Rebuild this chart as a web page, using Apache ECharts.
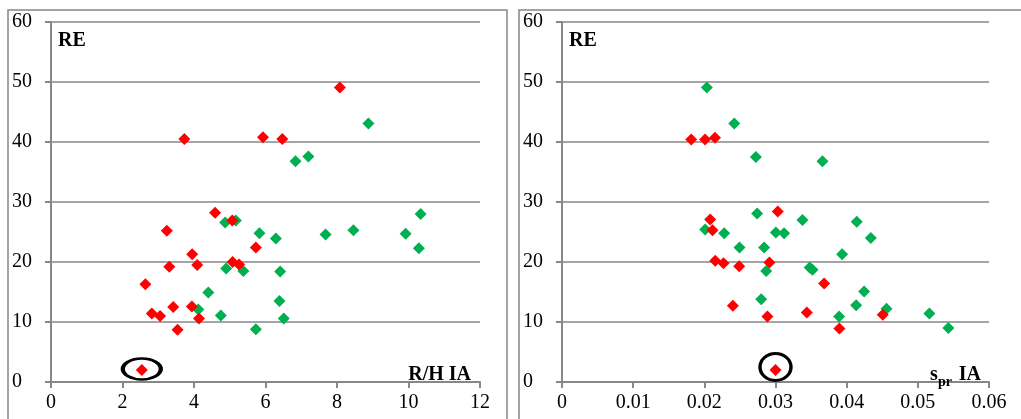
<!DOCTYPE html>
<html>
<head>
<meta charset="utf-8">
<script src="https://cdn.jsdelivr.net/npm/echarts@6/dist/echarts.min.js"></script>
<style>
  html, body { margin: 0; padding: 0; background: #fff; }
  #chart { width: 1021px; height: 419px; }
</style>
</head>
<body>
<div id="chart"></div>
<script>
// RE against R/H IA (left panel)
const rhGreen = [
  [6.84, 36.8], [7.20, 37.6], [8.88, 43.1], [4.87, 26.6], [5.17, 26.9], [10.34, 28.0],
  [5.83, 24.8], [6.29, 23.9], [7.68, 24.6], [8.46, 25.3], [9.92, 24.7], [10.29, 22.3],
  [4.90, 18.9], [5.38, 18.5], [6.41, 18.4], [4.40, 14.9], [4.12, 12.1], [4.75, 11.1],
  [5.73, 8.8], [6.39, 13.5], [6.51, 10.6]
];
const rhRed = [
  [3.73, 40.5], [5.93, 40.8], [6.47, 40.5], [8.08, 49.1], [4.59, 28.2], [5.07, 26.9],
  [3.24, 25.2], [5.73, 22.4], [3.95, 21.3], [4.09, 19.5], [3.31, 19.2], [5.08, 20.0],
  [5.26, 19.6], [2.64, 16.3], [2.82, 11.4], [3.05, 11.0], [3.42, 12.5], [3.94, 12.6],
  [4.14, 10.6], [3.54, 8.7], [2.54, 2.0]
];
// point singled out with an ellipse
const rhHighlight = [[2.54, 2.0]];

// RE against s_pr IA (right panel)
const sprGreen = [
  [0.02036, 49.1], [0.0242, 43.1], [0.02724, 37.5], [0.0366, 36.8], [0.02742, 28.1],
  [0.02012, 25.4], [0.02279, 24.8], [0.03379, 27.0], [0.04142, 26.7], [0.04339, 24.0],
  [0.03005, 24.9], [0.0312, 24.8], [0.02494, 22.4], [0.0284, 22.4], [0.03936, 21.3],
  [0.02869, 18.5], [0.0348, 19.1], [0.0352, 18.7], [0.04245, 15.1], [0.02799, 13.8],
  [0.04133, 12.8], [0.0456, 12.2], [0.03894, 10.9], [0.05162, 11.4], [0.05429, 9.0]
];
const sprRed = [
  [0.01816, 40.4], [0.0201, 40.4], [0.0215, 40.7], [0.03032, 28.4], [0.02082, 27.1],
  [0.02115, 25.3], [0.02153, 20.2], [0.02269, 19.8], [0.0249, 19.3], [0.02915, 19.9],
  [0.03683, 16.4], [0.02401, 12.7], [0.0344, 11.6], [0.04507, 11.2], [0.02887, 10.9],
  [0.03898, 8.9], [0.0300, 2.0]
];
const sprHighlight = [[0.0300, 2.0]];

const yTicks = { min: 0, max: 60, interval: 10 };
const rhTicks = { min: 0, max: 12, interval: 2 };
const sprTicks = { min: 0, max: 0.06, interval: 0.01 };

const GREEN = '#00b050';
const RED = '#ff0000';
const AXIS_GREY = '#878787';
const FONT = '"Liberation Serif", "DejaVu Serif", serif';

function xAxisCfg(gridIndex, t) {
  return {
    type: 'value', gridIndex, min: t.min, max: t.max, interval: t.interval,
    axisLine: { show: true, onZero: false, lineStyle: { color: AXIS_GREY, width: 2 } },
    axisTick: { show: true, inside: false, length: 6, lineStyle: { color: AXIS_GREY, width: 2 } },
    axisLabel: { color: '#000', fontFamily: FONT, fontSize: 20, margin: 11 },
    splitLine: { show: false }
  };
}
function yAxisCfg(gridIndex) {
  return {
    type: 'value', gridIndex, min: yTicks.min, max: yTicks.max, interval: yTicks.interval,
    axisLine: { show: true, lineStyle: { color: AXIS_GREY, width: 2 } },
    axisTick: { show: true, inside: false, length: 6, lineStyle: { color: AXIS_GREY, width: 2 } },
    axisLabel: { color: '#000', fontFamily: FONT, fontSize: 20, align: 'left', margin: 39 },
    splitLine: { show: true, lineStyle: { color: AXIS_GREY, width: 1.6 } }
  };
}
function dots(idx, data, color) {
  return {
    type: 'scatter', xAxisIndex: idx, yAxisIndex: idx, data,
    symbol: 'diamond', symbolSize: 12,
    itemStyle: { color, opacity: 1 }, silent: true, animation: false
  };
}
function ring(idx, data, size, offset) {
  return {
    type: 'scatter', xAxisIndex: idx, yAxisIndex: idx, data,
    symbol: 'circle', symbolSize: size, symbolOffset: offset, z: 5,
    itemStyle: { color: 'none', borderColor: '#000', borderWidth: 3.2, opacity: 1 },
    silent: true, animation: false
  };
}
const boldText = (x, y, text, size, align) => ({
  type: 'text', x, y, z: 10,
  style: { text, fontFamily: FONT, fontWeight: 'bold', fontSize: size, fill: '#000',
           align: align || 'left', verticalAlign: 'bottom' }
});

const chart = echarts.init(document.getElementById('chart'), null, { renderer: 'canvas' });
chart.setOption({
  backgroundColor: '#fff',
  animation: false,
  grid: [
    { left: 51, top: 22, width: 429, height: 360 },
    { left: 562, top: 22, width: 427, height: 360 }
  ],
  xAxis: [xAxisCfg(0, rhTicks), xAxisCfg(1, sprTicks)],
  yAxis: [yAxisCfg(0), yAxisCfg(1)],
  series: [
    dots(0, rhGreen, GREEN),
    dots(0, rhRed, RED),
    ring(0, rhHighlight, [38, 21], [0, -1]),
    dots(1, sprGreen, GREEN),
    dots(1, sprRed, RED),
    ring(1, sprHighlight, [31, 27], [0, -3])
  ],
  graphic: [
    // panel frames
    { type: 'rect', shape: { x: 8, y: 10, width: 499, height: 420 }, z: -1,
      style: { fill: 'none', stroke: AXIS_GREY, lineWidth: 1.5 } },
    { type: 'rect', shape: { x: 519, y: 10, width: 520, height: 420 }, z: -1,
      style: { fill: 'none', stroke: AXIS_GREY, lineWidth: 1.5 } },
    boldText(58, 51, 'RE', 20),
    boldText(569, 51, 'RE', 20),
    boldText(471, 385, 'R/H IA', 20, 'right'),
    boldText(930, 385, 's', 20),
    boldText(938, 389, 'pr', 14),
    boldText(981, 385, 'IA', 20, 'right')
  ]
});
</script>
</body>
</html>
